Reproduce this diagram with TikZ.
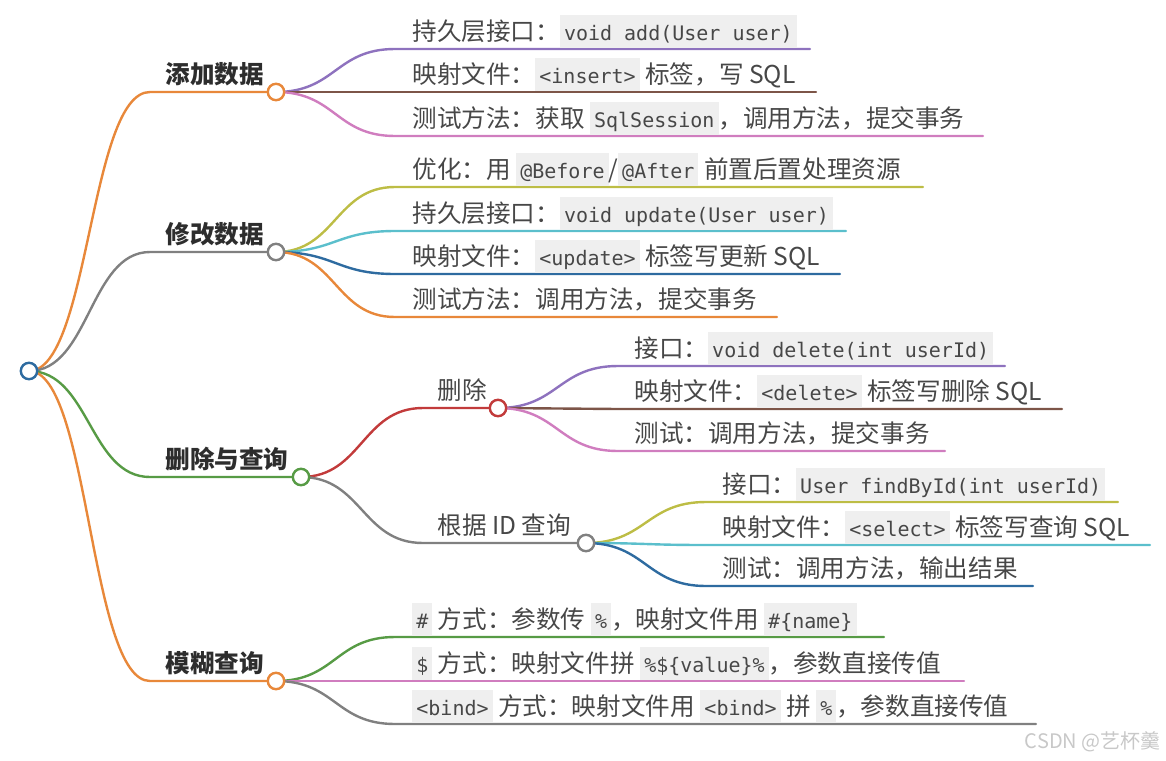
\documentclass[tikz,border=0pt]{standalone}
\usepackage{fontspec}
\newfontfamily\cjkfont{Noto Sans CJK SC}
\newfontfamily\codefont{DejaVu Sans Mono}
\usetikzlibrary{calc}
\usetikzlibrary{backgrounds}

\definecolor{mmblue}{HTML}{2E6BA0}
\definecolor{mmorange}{HTML}{E8883A}
\definecolor{mmgreen}{HTML}{579B45}
\definecolor{mmred}{HTML}{C23B3B}
\definecolor{mmpurple}{HTML}{8E72BE}
\definecolor{mmbrown}{HTML}{7D5548}
\definecolor{mmpink}{HTML}{D07DBF}
\definecolor{mmgray}{HTML}{808080}
\definecolor{mmolive}{HTML}{BDBD45}
\definecolor{mmcyan}{HTML}{5BBFCC}
\definecolor{txtgray}{HTML}{474747}
\definecolor{headgray}{HTML}{2D2D2D}
\definecolor{codebg}{HTML}{EFEFEF}
\definecolor{wmgray}{HTML}{C8C8C8}

\newcommand{\code}[1]{{\setlength{\fboxsep}{0pt}\colorbox{codebg}{\rule[-4pt]{0pt}{16.5pt}\hspace{2pt}{\codefont\fontsize{10pt}{12pt}\selectfont #1}\hspace{2pt}}}}

\tikzset{
  mm link/.style={to path={let \p1=(\tikztostart), \p2=(\tikztotarget) in
    .. controls ({(\x1+\x2)/2},\y1) and ({(\x1+\x2)/2},\y2) .. (\tikztotarget)}}
}

\begin{document}
\begin{tikzpicture}[x=0.5pt,y=-0.5pt,
    dot/.style={circle,draw,fill=white,line width=1.2pt,minimum size=8.2pt,inner sep=0pt},
    lbl/.style={anchor=base west,inner sep=0pt,text=txtgray,font=\cjkfont\fontsize{12.3pt}{14pt}\selectfont},
    head/.style={lbl,text=headgray,font=\cjkfont\fontsize{12.3pt}{14pt}\selectfont\bfseries},
    link/.style={line width=1.2pt,line cap=round}]
    \useasboundingbox (0,0) rectangle (1166,760);

    % root
    \node[dot,draw=mmblue] (root) at (29,371) {};

    % 添加数据
    \node[dot,draw=mmorange] (add) at (276,92) {};
    \node[head] (addtxt) at (165,83) {添加数据};
    \coordinate (adds) at (150,92);
    \node[lbl] (addA) at (412,40) {持久层接口：\code{void add(User user)}};
    \coordinate (addAs) at (395,49);
    \coordinate (addAe) at (810,49);
    \node[lbl] (addB) at (412,83) {映射文件：\code{<insert>} 标签，写 SQL};
    \coordinate (addBs) at (395,92);
    \coordinate (addBe) at (816,92);
    \node[lbl] (addC) at (412,127) {测试方法：获取 \code{SqlSession}，调用方法，提交事务};
    \coordinate (addCs) at (395,136);
    \coordinate (addCe) at (983,136);

    % 修改数据
    \node[dot,draw=mmgray] (mod) at (276,252) {};
    \node[head] (modtxt) at (165,243) {修改数据};
    \coordinate (mods) at (150,252);
    \node[lbl] (modA) at (412,178) {优化：用 \code{@Before}/\code{@After} 前置后置处理资源};
    \coordinate (modAs) at (395,187);
    \coordinate (modAe) at (923,187);
    \node[lbl] (modB) at (412,222) {持久层接口：\code{void update(User user)}};
    \coordinate (modBs) at (395,231);
    \coordinate (modBe) at (846,231);
    \node[lbl] (modC) at (412,265) {映射文件：\code{<update>} 标签写更新 SQL};
    \coordinate (modCs) at (395,274);
    \coordinate (modCe) at (840,274);
    \node[lbl] (modD) at (412,308) {测试方法：调用方法，提交事务};
    \coordinate (modDs) at (395,317);
    \coordinate (modDe) at (777,317);

    % 删除与查询
    \node[dot,draw=mmgreen] (del) at (301,477) {};
    \node[head] (deltxt) at (165,468) {删除与查询};
    \coordinate (dels) at (150,477);
    \node[dot,draw=mmred] (rm) at (498,408) {};
    \node[lbl] (rmtxt) at (437,399) {删除};
    \coordinate (rms) at (423,408);
    \node[lbl] (rmA) at (634,357) {接口：\code{void delete(int userId)}};
    \coordinate (rmAs) at (618,366);
    \coordinate (rmAe) at (1005,366);
    \node[lbl] (rmB) at (634,400) {映射文件：\code{<delete>} 标签写删除 SQL};
    \coordinate (rmBs) at (618,409);
    \coordinate (rmBe) at (1062,409);
    \node[lbl] (rmC) at (634,442) {测试：调用方法，提交事务};
    \coordinate (rmCs) at (618,451);
    \coordinate (rmCe) at (945,451);
    \node[dot,draw=mmgray] (qry) at (586,543) {};
    \node[lbl] (qrytxt) at (437,534) {根据 ID 查询};
    \coordinate (qrys) at (423,543);
    \node[lbl] (qryA) at (722,493) {接口：\code{User findById(int userId)}};
    \coordinate (qryAs) at (706,502);
    \coordinate (qryAe) at (1118,502);
    \node[lbl] (qryB) at (722,536) {映射文件：\code{<select>} 标签写查询 SQL};
    \coordinate (qryBs) at (706,545);
    \coordinate (qryBe) at (1150,545);
    \node[lbl] (qryC) at (722,577) {测试：调用方法，输出结果};
    \coordinate (qryCs) at (706,586);
    \coordinate (qryCe) at (1033,586);

    % 模糊查询
    \node[dot,draw=mmorange] (fz) at (276,681) {};
    \node[head] (fztxt) at (165,672) {模糊查询};
    \coordinate (fzs) at (150,681);
    \node[lbl] (fzA) at (412,628) {\code{\#} 方式：参数传 \code{\%}，映射文件用 \code{\#\{name\}}};
    \coordinate (fzAs) at (395,637);
    \coordinate (fzAe) at (884,637);
    \node[lbl] (fzB) at (412,672) {\code{\$} 方式：映射文件拼 \code{\%\$\{value\}\%}，参数直接传值};
    \coordinate (fzBs) at (395,681);
    \coordinate (fzBe) at (964,681);
    \node[lbl] (fzC) at (412,715) {\code{<bind>} 方式：映射文件用 \code{<bind>} 拼 \code{\%}，参数直接传值};
    \coordinate (fzCs) at (395,724);
    \coordinate (fzCe) at (1036,724);

    % watermark
    \node[anchor=base east,inner sep=0pt,text=wmgray,font=\cjkfont\fontsize{10pt}{12pt}\selectfont] (wm) at (1161,748) {CSDN @艺杯羹};

    \begin{scope}[on background layer]
        \draw[link,mmorange] (root.center) to[mm link] (adds) -- (add.center);
        \draw[link,mmgray] (root.center) to[mm link] (mods) -- (mod.center);
        \draw[link,mmgreen] (root.center) to[mm link] (dels) -- (del.center);
        \draw[link,mmorange] (root.center) to[mm link] (fzs) -- (fz.center);

        \draw[link,mmpurple] (add.center) to[mm link] (addAs) -- (addAe);
        \draw[link,mmbrown] (add.center) to[mm link] (addBs) -- (addBe);
        \draw[link,mmpink] (add.center) to[mm link] (addCs) -- (addCe);

        \draw[link,mmolive] (mod.center) to[mm link] (modAs) -- (modAe);
        \draw[link,mmcyan] (mod.center) to[mm link] (modBs) -- (modBe);
        \draw[link,mmblue] (mod.center) to[mm link] (modCs) -- (modCe);
        \draw[link,mmorange] (mod.center) to[mm link] (modDs) -- (modDe);

        \draw[link,mmred] (del.center) to[mm link] (rms) -- (rm.center);
        \draw[link,mmgray] (del.center) to[mm link] (qrys) -- (qry.center);
        \draw[link,mmpurple] (rm.center) to[mm link] (rmAs) -- (rmAe);
        \draw[link,mmbrown] (rm.center) to[mm link] (rmBs) -- (rmBe);
        \draw[link,mmpink] (rm.center) to[mm link] (rmCs) -- (rmCe);
        \draw[link,mmolive] (qry.center) to[mm link] (qryAs) -- (qryAe);
        \draw[link,mmcyan] (qry.center) to[mm link] (qryBs) -- (qryBe);
        \draw[link,mmblue] (qry.center) to[mm link] (qryCs) -- (qryCe);

        \draw[link,mmgreen] (fz.center) to[mm link] (fzAs) -- (fzAe);
        \draw[link,mmpink] (fz.center) to[mm link] (fzBs) -- (fzBe);
        \draw[link,mmgray] (fz.center) to[mm link] (fzCs) -- (fzCe);
    \end{scope}
\end{tikzpicture}
\end{document}
